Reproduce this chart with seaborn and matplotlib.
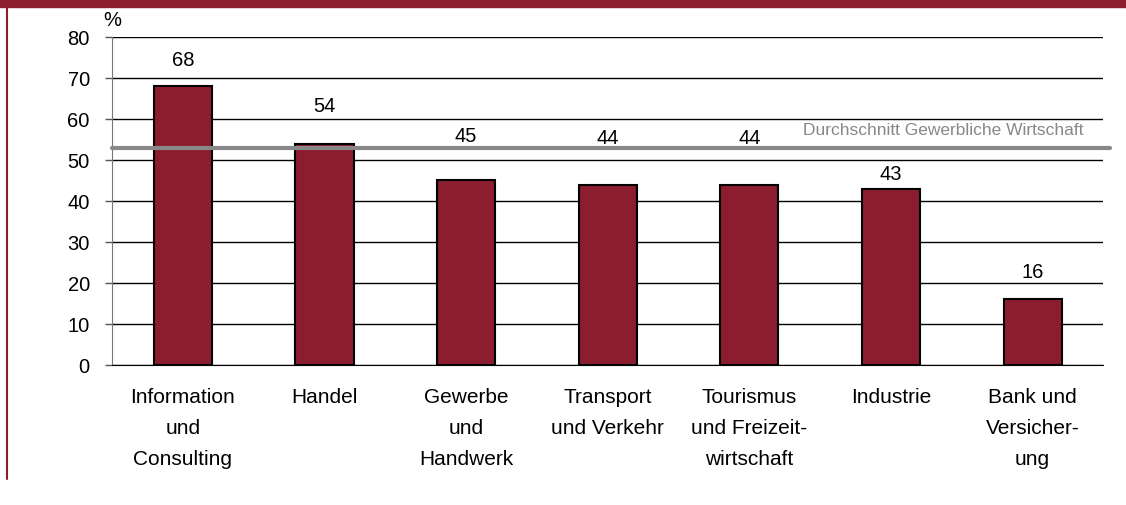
import matplotlib
matplotlib.use("Agg")
import matplotlib.pyplot as plt
import seaborn as sns
import pandas as pd

# Daten
categories = ["Information\nund\nConsulting", "Handel", "Gewerbe\nund\nHandwerk",
              "Transport\nund Verkehr", "Tourismus\nund Freizeit-\nwirtschaft",
              "Industrie", "Bank und\nVersicher-\nung"]
values = [68, 54, 45, 44, 44, 43, 16]
value_labels = ["68", "54", "45", "44", "44", "43", "16"]
label_y = [74.5, 63.4, 56.0, 55.4, 55.4, 46.7, 22.8]
average = 53
average_label = "Durchschnitt Gewerbliche Wirtschaft"
y_ticks = [0, 10, 20, 30, 40, 50, 60, 70, 80]

dark_red = "#8c1d2e"

sns.set_style("white")
plt.rcParams["font.family"] = ["Liberation Sans", "DejaVu Sans"]
plt.rcParams["text.color"] = "black"
plt.rcParams["xtick.color"] = "black"
plt.rcParams["ytick.color"] = "black"

df = pd.DataFrame({"Branche": categories, "Anteil": values})

fig = plt.figure(figsize=(11.26, 5.06), dpi=100)
ax = fig.add_axes([0.0995, 0.2767, 0.8805, 0.6483])

sns.barplot(data=df, x="Branche", y="Anteil", color=dark_red, saturation=1,
            width=0.41, edgecolor="black", linewidth=1.5, ax=ax, zorder=3)

ax.set_ylim(0, 80)
ax.set_xlim(-0.5, len(categories) - 0.5)
ax.set_yticks(y_ticks)
ax.set_yticklabels([str(t) for t in y_ticks], fontsize=14.5)
ax.yaxis.grid(True, color="black", linewidth=1.0, zorder=0)
ax.set_axisbelow(True)

# x-Achse: Beschriftung mittig, Striche zwischen den Kategorien
ax.tick_params(axis="x", length=0, pad=16, labelsize=15)
for lbl in ax.get_xticklabels():
    lbl.set_linespacing(1.8)
ax.set_xticks([i + 0.5 for i in range(-1, len(categories))], minor=True)
ax.tick_params(axis="x", which="minor", length=6, width=1, color="#555555", direction="out")
ax.tick_params(axis="y", length=5, width=1, color="#555555", pad=11, left=True)

ax.set_xlabel("")
ax.set_ylabel("")
for s in ["top", "right"]:
    ax.spines[s].set_visible(False)
ax.spines["left"].set_color("#777777")
ax.spines["bottom"].set_color("black")
ax.spines["bottom"].set_zorder(4)

# Werte über den Balken
for i, (txt, yy) in enumerate(zip(value_labels, label_y)):
    ax.text(i, yy, txt, ha="center", va="center", fontsize=14.5)

# Durchschnittslinie
ax.axhline(average, xmin=0, xmax=1.007, color="#888888", linewidth=3, clip_on=False, zorder=5)
ax.text(6.36, average + 3.3, average_label, ha="right", va="baseline", fontsize=12.5,
        color="#888888")

ax.text(-0.009, 1.023, "%", transform=ax.transAxes, fontsize=14.5, ha="left", va="bottom")

# Rahmen oben und links
fig.patches.append(plt.Rectangle((0, 1 - 8 / 506), 1, 8 / 506, transform=fig.transFigure,
                                 color=dark_red, zorder=0))
fig.add_artist(plt.Line2D([7.5 / 1126, 7.5 / 1126], [1 - 8 / 506, 1 - 480 / 506],
                          transform=fig.transFigure, color=dark_red, linewidth=1.5))

fig.savefig("out.png", dpi=100)
